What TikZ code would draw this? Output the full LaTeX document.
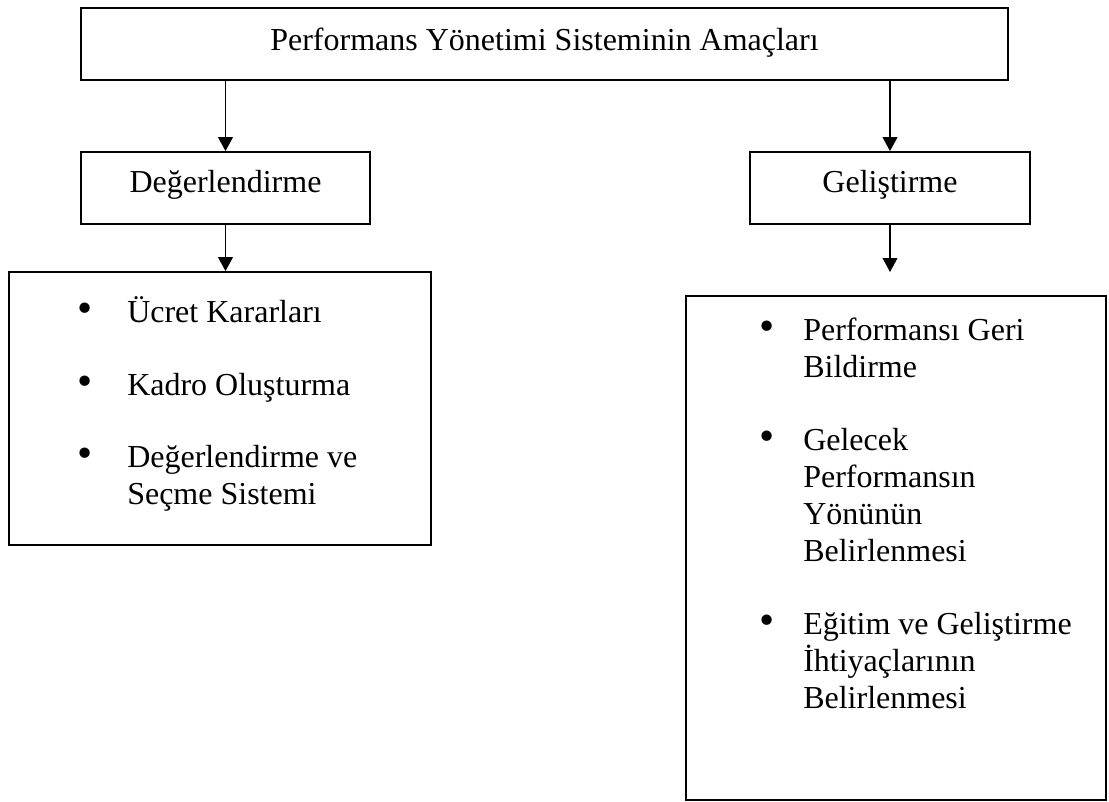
\documentclass[tikz,border=0pt]{standalone}
\usepackage{fontspec}
\setmainfont{Liberation Serif}
\usetikzlibrary{arrows.meta}
\newcommand{\listdot}{\scalebox{1.35}{\textbullet}}
\begin{document}
\begin{tikzpicture}[x=0.75pt,y=-0.75pt,
  box/.style={draw, line width=1.3pt, rectangle, inner sep=0pt},
  txt/.style={font=\fontsize{24}{27.6}\selectfont, inner sep=0pt, anchor=base west},
  ctxt/.style={txt, anchor=base},
  dot/.style={txt, anchor=base},
  conn/.style={line width=1.3pt, -{Triangle[width=11pt,length=10.5pt]}}]
\useasboundingbox (0,0) rectangle (1109,802);

% boxes
\node[box, minimum width=695pt, minimum height=54pt] (title) at (544.5,44) {};
\node[box, minimum width=216.75pt, minimum height=54pt] (deg) at (225.5,188) {};
\node[box, minimum width=210pt, minimum height=54pt] (gel) at (890,188) {};
\node[box, minimum width=316.5pt, minimum height=204.75pt] (llist) at (220,408.5) {};
\node[box, minimum width=315pt, minimum height=378pt] (rlist) at (896,548) {};
\coordinate (gelend) at (890,272);

% box captions
\node[ctxt] (titletxt) at (544.5,51) {Performans Yönetimi Sisteminin Amaçları};
\node[ctxt] (degtxt) at (225.5,193) {Değerlendirme};
\node[ctxt] (geltxt) at (890,193) {Geliştirme};

% connectors
\draw[conn] (title.south -| deg.north) -- (deg.north);
\draw[conn] (title.south -| gel.north) -- (gel.north);
\draw[conn] (deg.south) -- (deg.south |- llist.north);
\draw[conn] (gel.south) -- (gelend);

% left list
\node[dot] (lb1) at (85,322) {\listdot};
\node[txt] (l1) at (127,322) {Ücret Kararları};
\node[dot] (lb2) at (85,395) {\listdot};
\node[txt] (l2) at (127,395) {Kadro Oluşturma};
\node[dot] (lb3) at (85,467) {\listdot};
\node[txt] (l3a) at (127,467) {Değerlendirme ve};
\node[txt] (l3b) at (127,504) {Seçme Sistemi};

% right list
\node[dot] (rb1) at (767,340) {\listdot};
\node[txt] (r1a) at (803,340) {Performansı Geri};
\node[txt] (r1b) at (803,377) {Bildirme};
\node[dot] (rb2) at (767,450) {\listdot};
\node[txt] (r2a) at (803,450) {Gelecek};
\node[txt] (r2b) at (803,487) {Performansın};
\node[txt] (r2c) at (803,524) {Yönünün};
\node[txt] (r2d) at (803,561) {Belirlenmesi};
\node[dot] (rb3) at (767,634) {\listdot};
\node[txt] (r3a) at (803,634) {Eğitim ve Geliştirme};
\node[txt] (r3b) at (803,671) {İhtiyaçlarının};
\node[txt] (r3c) at (803,708) {Belirlenmesi};
\end{tikzpicture}
\end{document}
